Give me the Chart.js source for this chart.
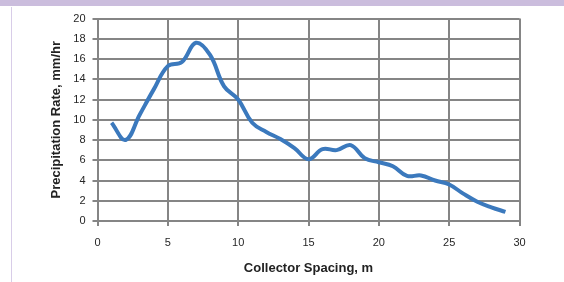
<!DOCTYPE html>
<html>
<head>
<meta charset="utf-8">
<script src="https://cdn.jsdelivr.net/npm/chart.js@4"></script>
<style>
    html, body { margin: 0; padding: 0; background: #ffffff; }
    #wrap { position: relative; width: 564px; height: 282px; overflow: hidden; }
    #band { position: absolute; left: 0; top: 0; width: 564px; height: 6px; background: #cbbddd; }
    #edge { position: absolute; left: 11px; top: 7px; width: 1px; height: 275px; background: #d8cde8; }
    canvas { position: absolute; left: 0; top: 0; }
</style>
</head>
<body>
<div id="wrap">
    <div id="band"></div>
    <div id="edge"></div>
    <canvas id="chart" width="564" height="282"></canvas>
</div>
<script>
// Data
const spacing = [1, 2, 3, 4, 5, 6, 7, 8, 9, 10, 11, 12, 13, 14, 15,
                 16, 17, 18, 19, 20, 21, 22, 23, 24, 25, 26, 27, 28, 29];
const precipRate = [9.7, 8.0, 10.5, 13.0, 15.3, 15.7, 17.6, 16.4, 13.3, 12.0, 9.7, 8.8, 8.1, 7.2, 6.1,
                    7.1, 7.0, 7.5, 6.2, 5.8, 5.4, 4.45, 4.5, 4.0, 3.6, 2.7, 1.9, 1.35, 0.9];

const xLabel = 'Collector Spacing, m';
const yLabel = 'Precipitation Rate, mm/hr';

const gridColor = '#858585';
const tickFont = { family: 'Liberation Sans', size: 11 };
const titleFont = { family: 'Liberation Sans', size: 13, weight: 'bold' };

const ctx = document.getElementById('chart').getContext('2d');
new Chart(ctx, {
    type: 'line',
    data: {
        datasets: [{
            label: yLabel,
            data: spacing.map((x, i) => ({ x: x, y: precipRate[i] })),
            borderColor: '#3b79bd',
            borderWidth: 4,
            pointRadius: 0,
            fill: false,
            tension: 0.4
        }]
    },
    options: {
        responsive: false,
        animation: false,
        layout: {
            padding: { left: 0, top: 18.5, right: 44.5, bottom: 0 }
        },
        plugins: {
            legend: { display: false },
            tooltip: { enabled: false }
        },
        scales: {
            x: {
                type: 'linear',
                min: 0,
                max: 30,
                afterFit: function(scale) { scale.height = 61; },
                ticks: {
                    stepSize: 5,
                    color: '#262626',
                    font: tickFont,
                    padding: 10,
                    maxRotation: 0
                },
                grid: {
                    color: gridColor,
                    lineWidth: 2,
                    tickLength: 5,
                    tickColor: gridColor
                },
                border: { color: gridColor, width: 2 },
                title: {
                    display: true,
                    text: xLabel,
                    color: '#222222',
                    font: titleFont,
                    padding: { top: 0, bottom: 6 }
                }
            },
            y: {
                min: 0,
                max: 20,
                afterFit: function(scale) { scale.width = 97.5; },
                ticks: {
                    stepSize: 2,
                    color: '#262626',
                    font: tickFont,
                    padding: 7
                },
                grid: {
                    color: gridColor,
                    lineWidth: 2,
                    tickLength: 5,
                    tickColor: gridColor
                },
                border: { color: gridColor, width: 2 },
                title: {
                    display: true,
                    text: yLabel,
                    color: '#222222',
                    font: titleFont,
                    padding: { top: 49, bottom: 0 }
                }
            }
        }
    }
});
</script>
</body>
</html>
